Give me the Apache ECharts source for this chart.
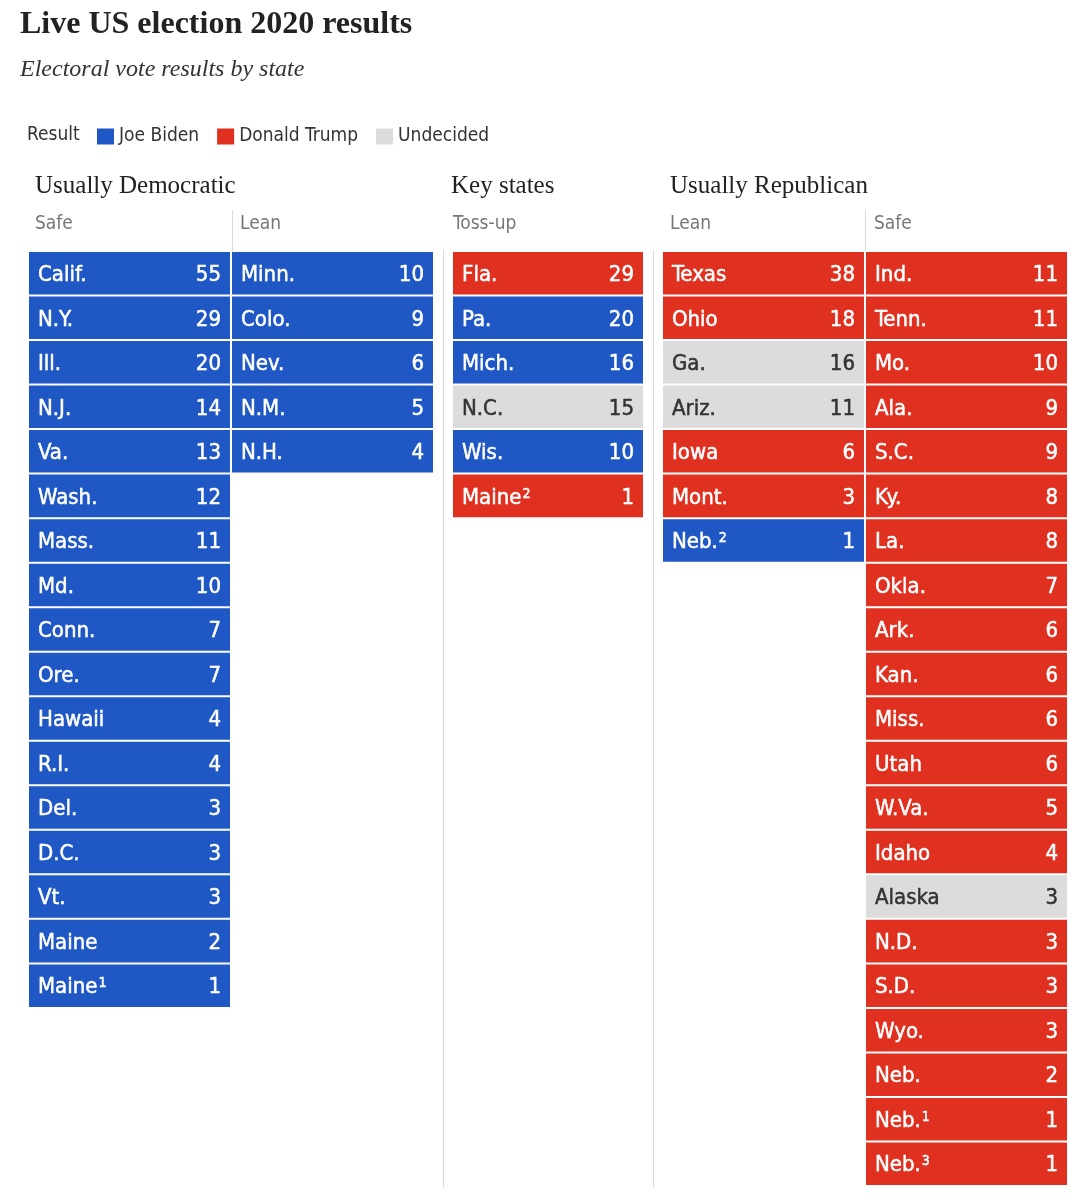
<!DOCTYPE html>
<html>
<head>
<meta charset="utf-8">
<script src="https://cdn.jsdelivr.net/npm/echarts@6/dist/echarts.min.js"></script>
<style>
html, body { margin: 0; padding: 0; background: #fff; }
#results { width: 1090px; height: 1200px; }
</style>
</head>
<body>
<div id="results"></div>
<script>
// D = Biden, R = Trump, U = undecided. A trailing digit in a name is a footnote mark.
var safeDemStates = ['Calif.', 'N.Y.', 'Ill.', 'N.J.', 'Va.', 'Wash.', 'Mass.', 'Md.', 'Conn.', 'Ore.', 'Hawaii', 'R.I.', 'Del.', 'D.C.', 'Vt.', 'Maine', 'Maine1'];
var safeDemVotes = [55, 29, 20, 14, 13, 12, 11, 10, 7, 7, 4, 4, 3, 3, 3, 2, 1];
var safeDemResult = ['D', 'D', 'D', 'D', 'D', 'D', 'D', 'D', 'D', 'D', 'D', 'D', 'D', 'D', 'D', 'D', 'D'];

var leanDemStates = ['Minn.', 'Colo.', 'Nev.', 'N.M.', 'N.H.'];
var leanDemVotes = [10, 9, 6, 5, 4];
var leanDemResult = ['D', 'D', 'D', 'D', 'D'];

var tossUpStates = ['Fla.', 'Pa.', 'Mich.', 'N.C.', 'Wis.', 'Maine2'];
var tossUpVotes = [29, 20, 16, 15, 10, 1];
var tossUpResult = ['R', 'D', 'D', 'U', 'D', 'R'];

var leanRepStates = ['Texas', 'Ohio', 'Ga.', 'Ariz.', 'Iowa', 'Mont.', 'Neb.2'];
var leanRepVotes = [38, 18, 16, 11, 6, 3, 1];
var leanRepResult = ['R', 'R', 'U', 'U', 'R', 'R', 'D'];

var safeRepStates = ['Ind.', 'Tenn.', 'Mo.', 'Ala.', 'S.C.', 'Ky.', 'La.', 'Okla.', 'Ark.', 'Kan.', 'Miss.', 'Utah', 'W.Va.', 'Idaho', 'Alaska', 'N.D.', 'S.D.', 'Wyo.', 'Neb.', 'Neb.1', 'Neb.3'];
var safeRepVotes = [11, 11, 10, 9, 9, 8, 8, 7, 6, 6, 6, 6, 5, 4, 3, 3, 3, 3, 2, 1, 1];
var safeRepResult = ['R', 'R', 'R', 'R', 'R', 'R', 'R', 'R', 'R', 'R', 'R', 'R', 'R', 'R', 'U', 'R', 'R', 'R', 'R', 'R', 'R'];

var resultNames = { D: 'Joe Biden', R: 'Donald Trump', U: 'Undecided' };
var resultColors = { D: '#1f57c4', R: '#e0301f', U: '#dcdcdc' };
var resultText = { D: '#fff', R: '#fff', U: '#333' };

var cellFont = '"DejaVu Sans Condensed", "Liberation Sans Narrow", sans-serif';
var serifFont = '"Liberation Serif", "DejaVu Serif", serif';

var rowCount = safeRepStates.length;
var rowIds = [];
for (var i = 0; i < rowCount; i++) rowIds.push(String(i));

// three blocks: usually dem (2 cols), toss-up, usually rep (2 cols)
var sections = [
  { grid: { left: 29, top: 252, width: 406, height: 935 },
    columns: [[safeDemStates, safeDemVotes, safeDemResult], [leanDemStates, leanDemVotes, leanDemResult]] },
  { grid: { left: 453, top: 252, width: 192, height: 935 },
    columns: [[tossUpStates, tossUpVotes, tossUpResult]] },
  { grid: { left: 663, top: 252, width: 406, height: 935 },
    columns: [[leanRepStates, leanRepVotes, leanRepResult], [safeRepStates, safeRepVotes, safeRepResult]] }
];

function makeRender(data, res) {
  return function (params, api) {
    var d = data[params.dataIndex];
    var c = api.coord([api.value(0), api.value(1)]);
    var s = api.size([1, 1]);
    var x = c[0] - s[0] / 2, y = c[1] - s[1] / 2;
    var w = s[0] - 2, h = s[1] - 2;
    var label = d.name + (d.sup ? '{sup|' + d.sup + '}' : '');
    var txt = resultText[res];
    return {
      type: 'group',
      children: [
        { type: 'rect', shape: { x: x, y: y, width: w, height: h }, style: { fill: resultColors[res] } },
        { type: 'text', x: x + 9, y: y + h / 2 + 2,
          style: { text: label, fill: txt, font: '22px ' + cellFont,
            stroke: txt, lineWidth: 0.5,
            verticalAlign: 'middle', align: 'left',
            rich: { sup: { fontSize: 14, fontFamily: cellFont, fill: txt, verticalAlign: 'top', lineHeight: 10, padding: [0, 0, 0, 1] } } } },
        { type: 'text', x: x + w - 9, y: y + h / 2 + 2,
          style: { text: String(api.value(2)), fill: txt, font: '22px ' + cellFont,
            stroke: txt, lineWidth: 0.5,
            verticalAlign: 'middle', align: 'right' } }
      ]
    };
  };
}

var grids = [], xAxes = [], yAxes = [], series = [];
sections.forEach(function (sec, gi) {
  grids.push(sec.grid);
  var cols = sec.columns.map(function (c, ci) { return String(ci); });
  xAxes.push({ type: 'category', gridIndex: gi, data: cols, show: false });
  yAxes.push({ type: 'category', gridIndex: gi, data: rowIds, inverse: true, show: false });
  ['D', 'R', 'U'].forEach(function (res) {
    var data = [];
    sec.columns.forEach(function (col, ci) {
      col[0].forEach(function (nm, ri) {
        if (col[2][ri] !== res) return;
        var m = nm.match(/^(.*?)(\d)$/);
        data.push({ value: [ci, ri, col[1][ri]], name: m ? m[1] : nm, sup: m ? m[2] : '' });
      });
    });
    series.push({
      type: 'custom', name: resultNames[res], xAxisIndex: gi, yAxisIndex: gi,
      itemStyle: { color: resultColors[res] },
      renderItem: makeRender(data, res), data: data, silent: true
    });
  });
});

var chart = echarts.init(document.getElementById('results'));

var greyLine = { stroke: '#d9d9d9', lineWidth: 1 };
chart.setOption({
  animation: false,
  title: {
    text: 'Live US election 2020 results',
    subtext: 'Electoral vote results by state',
    left: 15, top: 4, itemGap: 17,
    textStyle: { fontFamily: serifFont, fontWeight: 'bold', fontSize: 32, color: '#222' },
    subtextStyle: { fontFamily: serifFont, fontStyle: 'italic', fontSize: 24, color: '#333' }
  },
  legend: {
    data: ['Joe Biden', 'Donald Trump', 'Undecided'],
    left: 97, top: 127, padding: 0, icon: 'rect', itemWidth: 17, itemHeight: 16, itemGap: 18,
    selectedMode: false,
    textStyle: { fontFamily: cellFont, fontSize: 19, color: '#333' }
  },
  grid: grids, xAxis: xAxes, yAxis: yAxes, series: series,
  graphic: [
    { type: 'text', left: 27, top: 126, style: { text: 'Result', font: '19px ' + cellFont, fill: '#333' } },
    { type: 'text', left: 35, top: 174, style: { text: 'Usually Democratic', font: '25px ' + serifFont, fill: '#222' } },
    { type: 'text', left: 451, top: 174, style: { text: 'Key states', font: '25px ' + serifFont, fill: '#222' } },
    { type: 'text', left: 670, top: 174, style: { text: 'Usually Republican', font: '25px ' + serifFont, fill: '#222' } },
    { type: 'text', left: 35, top: 215, style: { text: 'Safe', font: '19px ' + cellFont, fill: '#777' } },
    { type: 'text', left: 240, top: 215, style: { text: 'Lean', font: '19px ' + cellFont, fill: '#777' } },
    { type: 'text', left: 453, top: 215, style: { text: 'Toss-up', font: '19px ' + cellFont, fill: '#777' } },
    { type: 'text', left: 670, top: 215, style: { text: 'Lean', font: '19px ' + cellFont, fill: '#777' } },
    { type: 'text', left: 874, top: 215, style: { text: 'Safe', font: '19px ' + cellFont, fill: '#777' } },
    { type: 'line', shape: { x1: 232.5, y1: 210, x2: 232.5, y2: 251 }, style: greyLine },
    { type: 'line', shape: { x1: 865.5, y1: 210, x2: 865.5, y2: 251 }, style: greyLine },
    { type: 'line', shape: { x1: 443.5, y1: 250, x2: 443.5, y2: 1188 }, style: greyLine },
    { type: 'line', shape: { x1: 653.5, y1: 250, x2: 653.5, y2: 1188 }, style: greyLine }
  ]
});
</script>
</body>
</html>
